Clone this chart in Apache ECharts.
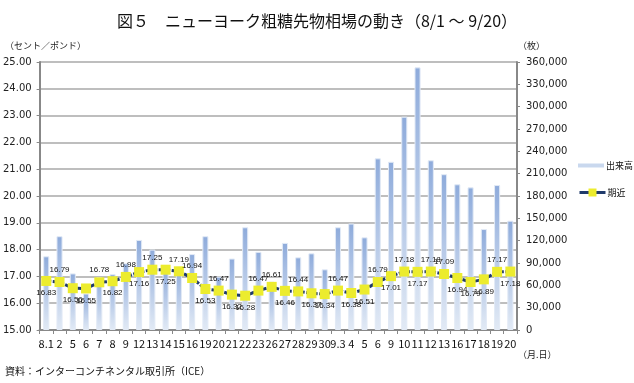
<!DOCTYPE html>
<html><head><meta charset="utf-8">
<script src="https://cdn.jsdelivr.net/npm/echarts@6/dist/echarts.min.js"></script>
<style>html,body{margin:0;padding:0;background:#fff}#c{width:634px;height:383px}</style>
</head><body><div id="c"></div>
<script>
const categories = ['8.1','2','5','6','7','8','9','12','13','14','15','16','19','20','21','22','23','26','27','28','29','30','9.3','4','5','6','9','10','11','12','13','16','17','18','19','20'];
const volume = [99000,126000,76000,49000,71000,75000,89500,121000,108000,80000,85000,102000,126000,71600,96000,138000,105000,65000,117000,97600,103000,81500,138000,143000,124500,230600,226000,286500,352800,228000,209300,195700,191600,135600,194700,146800];
const price = [16.83,16.79,16.56,16.55,16.78,16.82,16.98,17.16,17.25,17.25,17.19,16.94,16.53,16.47,16.32,16.28,16.47,16.61,16.46,16.44,16.37,16.34,16.47,16.38,16.51,16.79,17.01,17.18,17.17,17.18,17.09,16.94,16.79,16.89,17.17,17.18];
// label placement: 'a' above, 'b' below
const labelSide = ['b','a','b','b','a','b','a','b','a','b','a','a','b','a','b','b','a','a','b','a','b','b','a','b','b','a','b','a','b','a','a','b','b','b','a','b'];
const leftTicks = {min:15, max:25, interval:1};
const rightTicks = {min:0, max:360000, interval:30000};

const FONT = '"Noto Sans CJK JP","Noto Sans",sans-serif';
const chart = echarts.init(document.getElementById('c'), null, {renderer:'canvas'});

const priceData = price.map((v,i)=>({
  value:v,
  label: labelSide[i]==='a'
    ? {position:'top', distance:3, offset:[1,0]}
    : {position:'bottom', distance:3, offset:[4,0]}
}));

chart.setOption({
  animation:false,
  textStyle:{fontFamily:FONT},
  title:{
    text:'図５　ニューヨーク粗糖先物相場の動き（8/1 ～ 9/20）',
    left:'center', top:8,
    textStyle:{fontFamily:FONT, fontSize:16, fontWeight:'normal', color:'#111'}
  },
  legend:[
    {data:['出来高'], left:573, top:156, orient:'vertical', icon:'rect', itemWidth:26, itemHeight:4, itemGap:6,
     textStyle:{fontFamily:FONT, fontSize:9, color:'#111', padding:[0,0,0,-3]},
     itemStyle:{color:'#c9d8ee', borderWidth:0}},
    {data:['期近'], left:573, top:183, orient:'vertical', itemWidth:26, itemHeight:10,
     lineStyle:{type:'solid', width:3, color:'#1f3a6b'},
     textStyle:{fontFamily:FONT, fontSize:9, color:'#111', padding:[0,0,0,-3]}}
  ],
  graphic:[
    {type:'text', left:5, top:41, style:{text:'（セント／ポンド）', font:'9px '+FONT, fill:'#222'}},
    {type:'text', left:518, top:41, style:{text:'（枚）', font:'9px '+FONT, fill:'#222'}},
    {type:'text', left:518, top:350, style:{text:'（月.日）', font:'9px '+FONT, fill:'#222'}},
    {type:'text', left:5, top:366, style:{text:'資料：インターコンチネンタル取引所（ICE）', font:'10px '+FONT, fill:'#111'}}
  ],
  grid:{left:38, right:117, top:62, bottom:53, containLabel:false},
  xAxis:{
    type:'category', data:categories,
    axisLine:{lineStyle:{color:'#888', width:2}},
    axisTick:{show:true, alignWithLabel:false, length:4, lineStyle:{color:'#888'}},
    axisLabel:{interval:0, fontSize:11, color:'#111', margin:8, fontFamily:FONT}
  },
  yAxis:[
    {type:'value', min:leftTicks.min, max:leftTicks.max, interval:leftTicks.interval, position:'left',
     axisLine:{show:true, lineStyle:{color:'#888', width:2}},
     axisTick:{show:true, length:3, lineStyle:{color:'#888'}},
     axisLabel:{formatter:v=>v.toFixed(2), fontSize:10, color:'#222', margin:8, fontFamily:'"DejaVu Sans",sans-serif'},
     splitLine:{show:true, lineStyle:{color:'#a8a8a8', width:1.5}}},
    {type:'value', min:rightTicks.min, max:rightTicks.max, interval:rightTicks.interval, position:'right',
     axisLine:{show:true, lineStyle:{color:'#888', width:2}},
     axisTick:{show:true, length:3, lineStyle:{color:'#888'}},
     axisLabel:{formatter:v=>v.toLocaleString('en-US'), fontSize:10, color:'#222', margin:9, fontFamily:'"DejaVu Sans",sans-serif'},
     splitLine:{show:false}}
  ],
  series:[
    {name:'出来高', type:'bar', yAxisIndex:1, data:volume, barWidth:'46%',
     itemStyle:{
       color:new echarts.graphic.LinearGradient(0,0,0,1,[{offset:0,color:'#8eabdb'},{offset:1,color:'#e2eaf5'}]),
       borderColor:'#e2eaf6', borderWidth:1
     }},
    {name:'期近', type:'line', yAxisIndex:0, data:priceData, z:5,
     symbol:'rect', symbolSize:10,
     itemStyle:{color:'#ecec2e'},
     lineStyle:{color:'#1f3a6b', width:3, type:[5,1.5]},
     label:{show:true, fontSize:8, color:'#111', fontFamily:'"Liberation Sans",Arial,sans-serif', formatter:p=>p.value.toFixed(2)},
     labelLayout:{hideOverlap:false}}
  ]
});
</script></body></html>
